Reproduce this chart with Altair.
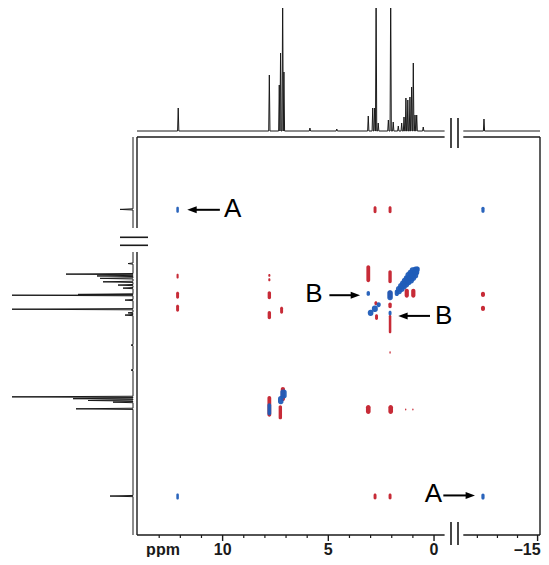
import altair as alt
import pandas as pd

# ---------------- data (all positions in ppm) ----------------
# 1D projection on top: peak position (ppm) and visible intensity
top_ppm = [12.10, 7.79, 7.32, 7.26, 7.16, 7.10, 5.87, 4.60, 3.11, 2.90, 2.81, 2.74,
           2.64, 2.16, 2.05, 1.93, 1.69, 1.53, 1.42, 1.33, 1.24, 1.14, 1.06, 0.98,
           0.90, 0.82, 0.51, -12.33]
top_int = [23, 56, 46, 78, 140, 59, 3, 2, 15, 23, 23, 140,
           8, 11, 140, 9, 5, 8, 14, 33, 31, 34, 44, 68,
           16, 16, 4, 12]

# 1D projection on the left
left_ppm = [-12.32, 0.62, 1.14, 1.23, 1.35, 1.52, 1.68, 1.83, 2.14, 2.18, 2.42, 2.87,
            3.05, 3.16, 4.64, 5.87, 7.19, 7.28, 7.37, 7.45, 7.78, 12.08]
left_int = [13, 5, 67, 36, 33, 30, 15, 10, 55, 121, 8, 121,
            5, 8, 2, 2, 121, 60, 45, 20, 57, 23]

# negative (red) cross peaks: centre (F2, F1) and half extents in ppm
red_x = [2.79, 2.08, 2.79, 2.08, 12.13, 12.13, 12.13, 7.79, 7.79, 7.79, 7.79, 7.21,
         -12.28, -12.28, 3.11, 2.08, 2.08, 2.08, 2.08, 2.08, 2.75, 2.72, 1.29, 0.98,
         3.11, 2.05, 1.34, 1.00, 7.79, 7.15, 7.27]
red_y = [-12.3, -12.3, 12.1, 12.1, 1.24, 2.18, 2.82, 1.20, 1.42, 2.18, 3.16, 2.92,
         2.14, 2.83, 1.12, 1.27, 2.15, 2.68, 3.60, 5.00, 2.58, 3.26, 2.08, 2.08,
         7.81, 7.81, 7.81, 7.81, 7.66, 7.05, 7.95]
red_hx = [0.07, 0.07, 0.07, 0.07, 0.05, 0.07, 0.07, 0.05, 0.05, 0.08, 0.08, 0.07,
          0.10, 0.10, 0.09, 0.08, 0.10, 0.08, 0.06, 0.03, 0.07, 0.07, 0.10, 0.10,
          0.11, 0.11, 0.03, 0.03, 0.09, 0.10, 0.08]
red_hy = [0.17, 0.17, 0.15, 0.15, 0.12, 0.17, 0.17, 0.07, 0.07, 0.20, 0.20, 0.17,
          0.13, 0.13, 0.42, 0.32, 0.20, 0.14, 0.45, 0.06, 0.10, 0.14, 0.22, 0.22,
          0.22, 0.22, 0.05, 0.05, 0.51, 0.35, 0.35]

# positive (blue) diagonal / exchange peaks
blue_x = [12.13, -12.28, 12.13, -12.28, 3.11, 2.08, 2.08, 3.00, 2.80, 2.62,
          1.76, 1.66, 1.55, 1.45, 1.35, 1.25, 1.15, 1.05, 0.95, 0.85, 0.78,
          7.79, 7.12, 7.25]
blue_y = [-12.3, -12.3, 12.1, 12.1, 2.09, 3.06, 2.18, 3.05, 2.85, 2.65,
          2.06, 1.93, 1.80, 1.68, 1.56, 1.44, 1.32, 1.20, 1.08, 0.98, 0.90,
          7.80, 7.05, 7.35]
blue_hx = [0.06, 0.08, 0.06, 0.08, 0.08, 0.07, 0.13, 0.13, 0.14, 0.10,
           0.10, 0.14, 0.15, 0.16, 0.17, 0.18, 0.20, 0.20, 0.20, 0.15, 0.10,
           0.09, 0.15, 0.13]
blue_hy = [0.15, 0.15, 0.15, 0.15, 0.12, 0.12, 0.25, 0.15, 0.16, 0.12,
           0.16, 0.20, 0.22, 0.22, 0.24, 0.25, 0.28, 0.28, 0.28, 0.22, 0.14,
           0.30, 0.22, 0.20]

# axis
x_major = [10, 5, 0]
x_major_labels = ["10", "5", "0"]
x_end = [-15]
x_end_label = ["\u201315"]
x_minor = [13, 12, 11, 9, 8, 7, 6, 4, 3, 2, 1, -12, -13, -14]

# displayed ppm windows of the broken axes
x_sections = [(14.05, -0.5), (-11.3, -15.12)]
y_sections = [(-15.9, -11.4), (0.05, 14.0)]

# annotations: label, text position, arrow tail, arrow head (ppm)
ann_label = ["A", "A", "B", "B"]
ann_tx = [9.52, 0.03, 5.68, -0.46]
ann_ty = [-12.36, 12.0, 2.14, 3.2]
arr_x0 = [10.13, -0.44, 4.95, 0.19]
arr_x1 = [11.45, -11.65, 3.72, 1.47]
arr_y = [-12.3, 12.05, 2.18, 3.2]
arr_dir = ["left", "right", "right", "left"]

# ---------------- scales ----------------
XS = alt.Scale(domain=[x_sections[0][0], x_sections[0][1], x_sections[1][0], x_sections[1][1]],
               range=[129, 436.6, 455.3, 532], nice=False, zero=False)
YS = alt.Scale(domain=[y_sections[0][0], y_sections[0][1], y_sections[1][0], y_sections[1][1]],
               range=[129, 220, 244, 527], nice=False, zero=False)
TOPS = alt.Scale(domain=[0, 123], range=[123, 0], nice=False, zero=False)
LEFTS = alt.Scale(domain=[0, 125], range=[125, 0], nice=False, zero=False)

BLUE = "#1f5cb8"
RED = "#c4202c"
INK = "#1a1a1a"


def trace(ppms, ints, sections, half_width):
    rows = []
    for s, (a, b) in enumerate(sections):
        rows.append(dict(seg=s, ppm=a, v=0))
        rows.append(dict(seg=s, ppm=b, v=0))
        lo, hi = min(a, b), max(a, b)
        for p, h in zip(ppms, ints):
            if lo <= p <= hi:
                rows.append(dict(seg=s, ppm=p + half_width, v=0))
                rows.append(dict(seg=s, ppm=p, v=h))
                rows.append(dict(seg=s, ppm=p - half_width, v=0))
    return pd.DataFrame(rows)


top_df = trace(top_ppm, top_int, x_sections, 0.03)
left_df = trace(left_ppm, left_int, y_sections, 0.03)

top_line = alt.Chart(top_df).mark_line(color=INK, strokeWidth=1, clip=True).encode(
    x=alt.X("ppm:Q", scale=XS, axis=None),
    y=alt.Y("v:Q", scale=TOPS, axis=None),
    detail="seg:N",
    order=alt.Order("ppm:Q"),
)
left_line = alt.Chart(left_df).mark_line(color=INK, strokeWidth=1, clip=True).encode(
    y=alt.Y("ppm:Q", scale=YS, axis=None),
    x=alt.X("v:Q", scale=LEFTS, axis=None),
    detail="seg:N",
    order=alt.Order("ppm:Q"),
)

# frame built from the axis windows
frame_rows = []
for a, b in x_sections:
    for yy in (y_sections[0][0], y_sections[1][1]):
        frame_rows.append(dict(x=a, x2=b, y=yy, y2=yy))
for a, b in y_sections:
    frame_rows.append(dict(x=x_sections[0][0], x2=x_sections[0][0], y=a, y2=b))
frame_rows.append(dict(x=x_sections[1][1], x2=x_sections[1][1],
                       y=y_sections[0][0], y2=y_sections[1][1]))
frame = alt.Chart(pd.DataFrame(frame_rows)).mark_rule(color=INK, strokeWidth=1.4).encode(
    x=alt.X("x:Q", scale=XS, axis=None), x2="x2:Q",
    y=alt.Y("y:Q", scale=YS, axis=None), y2="y2:Q",
)


def peaks(xs, ys, hx, hy, color):
    df = pd.DataFrame(dict(x=xs, y=ys, hx=hx, hy=hy))
    return alt.Chart(df).transform_calculate(
        x0="datum.x + datum.hx", x1="datum.x - datum.hx",
        y0="datum.y - datum.hy", y1="datum.y + datum.hy",
    ).mark_rect(color=color, cornerRadius=2.5, opacity=0.95).encode(
        x=alt.X("x0:Q", scale=XS, axis=None), x2="x1:Q",
        y=alt.Y("y0:Q", scale=YS, axis=None), y2="y1:Q",
    )


red_layer = peaks(red_x, red_y, red_hx, red_hy, RED)
blue_layer = peaks(blue_x, blue_y, blue_hx, blue_hy, BLUE)

# ticks and labels
minor = alt.Chart(pd.DataFrame(dict(v=x_minor))).mark_rule(color=INK, strokeWidth=1.2).encode(
    x=alt.X("v:Q", scale=XS, axis=None), y=alt.value(527), y2=alt.value(530))
major = alt.Chart(pd.DataFrame(dict(v=x_major + x_end))).mark_rule(color=INK, strokeWidth=1.4).encode(
    x=alt.X("v:Q", scale=XS, axis=None), y=alt.value(527), y2=alt.value(533))
labels = alt.Chart(pd.DataFrame(dict(v=x_major, t=x_major_labels))).mark_text(
    font="Liberation Sans", fontWeight="bold", fontSize=16, color=INK, baseline="alphabetic"
).encode(x=alt.X("v:Q", scale=XS, axis=None), y=alt.value(547), text="t:N")
end_label = alt.Chart(pd.DataFrame(dict(v=x_end, t=x_end_label))).mark_text(
    font="Liberation Sans", fontWeight="bold", fontSize=16, color=INK, baseline="alphabetic",
    align="right", dx=3
).encode(x=alt.X("v:Q", scale=XS, axis=None), y=alt.value(547), text="t:N")
unit = alt.Chart(pd.DataFrame(dict(t=["ppm"]))).mark_text(
    font="Liberation Sans", fontWeight="bold", fontSize=16, color=INK, baseline="alphabetic"
).encode(x=alt.value(155), y=alt.value(547), text="t:N")

# axis break marks
brk_v = alt.Chart(pd.DataFrame(dict(px=[443, 450, 443, 450], y0=[110, 110, 514, 514],
                                    y1=[140, 140, 537, 537]))).mark_rule(
    color=INK, strokeWidth=1.6).encode(
    x=alt.X("px:Q", scale=None), y=alt.Y("y0:Q", scale=None), y2="y1:Q")
brk_h = alt.Chart(pd.DataFrame(dict(py=[229.3, 237.3], x0=[112, 112], x1=[140, 140]))).mark_rule(
    color=INK, strokeWidth=1.6).encode(
    y=alt.Y("py:Q", scale=None), x=alt.X("x0:Q", scale=None), x2="x1:Q")

# annotations
ann_df = pd.DataFrame(dict(t=ann_label, x=ann_tx, y=ann_ty))
ann_text = alt.Chart(ann_df).mark_text(
    font="Liberation Sans", fontSize=26, color="#000000", baseline="middle"
).encode(x=alt.X("x:Q", scale=XS, axis=None), y=alt.Y("y:Q", scale=YS, axis=None), text="t:N")

arr_df = pd.DataFrame(dict(x0=arr_x0, x1=arr_x1, y=arr_y, d=arr_dir))
shafts = alt.Chart(arr_df).mark_rule(color="#000000", strokeWidth=2).encode(
    x=alt.X("x0:Q", scale=XS, axis=None), x2="x1:Q",
    y=alt.Y("y:Q", scale=YS, axis=None))
heads = alt.Chart(arr_df).mark_point(filled=True, opacity=1, color="#000000", size=88).encode(
    x=alt.X("x1:Q", scale=XS, axis=None),
    y=alt.Y("y:Q", scale=YS, axis=None),
    shape=alt.Shape("d:N", scale=alt.Scale(domain=["right", "left"],
                                           range=["M1,0L-1,-0.75L-1,0.75Z",
                                                  "M-1,0L1,-0.75L1,0.75Z"]), legend=None),
)

chart = alt.layer(
    top_line, left_line, frame, red_layer, blue_layer, minor, major, labels, end_label, unit,
    brk_v, brk_h, shafts, heads, ann_text,
).resolve_scale(x="independent", y="independent", shape="independent").properties(
    width=533, height=549, padding=0, autosize=alt.AutoSizeParams(type="none"),
    background="white",
).configure_view(stroke=None)

chart.save("out.html", embed_options={"renderer": "svg", "actions": False})
